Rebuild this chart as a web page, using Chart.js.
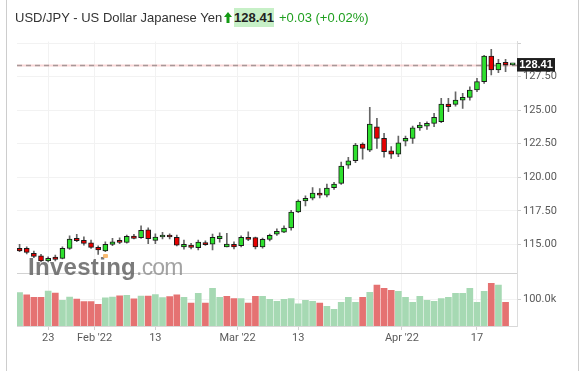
<!DOCTYPE html>
<html>
<head>
<meta charset="utf-8">
<script src="https://cdn.jsdelivr.net/npm/chart.js@4.4.1/dist/chart.umd.min.js"></script>
<style>
  html, body { margin: 0; padding: 0; background: #fff; }
  #wrap { position: relative; width: 584px; height: 371px; overflow: hidden; font-family: 'Liberation Sans', Arial, sans-serif; }
  #chart { position: absolute; left: 0; top: 0; }
  .frame { position: absolute; top: 0; width: 1px; height: 371px; background: #cdcdcd; }
  .hdr { position: absolute; top: 10px; font-size: 13px; line-height: 15px; white-space: nowrap; }
  #title { left: 15px; color: #333; }
  #arrow { position: absolute; left: 224px; top: 12px; }
  #last { position: absolute; left: 234px; top: 8px; width: 40px; height: 19px; background: #c7f0c7;
          font-weight: bold; font-size: 13px; line-height: 19px; text-align: center; color: #222; }
  #chg { left: 279px; color: #1f9f1f; }
  #wm { position: absolute; left: 28px; top: 255px; line-height: 24px; white-space: nowrap; pointer-events: none; }
  #wm b { font-size: 24px; color: rgba(100,100,100,0.85); letter-spacing: 0.3px; }
  #wm span { font-size: 23px; color: rgba(140,140,140,0.8); letter-spacing: -0.8px; }
  #wmdot { position: absolute; left: 103px; top: 254px; width: 5px; height: 4px; border-radius: 1px; background: rgba(247,180,100,0.9); }
</style>
</head>
<body>
<div id="wrap">
  <canvas id="chart" width="584" height="371"></canvas>
  <div class="frame" style="left:6px"></div>
  <div class="frame" style="left:578px"></div>
  <div class="hdr" id="title">USD/JPY - US Dollar Japanese Yen</div>
  <svg id="arrow" width="8" height="11" viewBox="0 0 8 11"><path d="M4 0 L8 5 L5.5 5 L5.5 11 L2.5 11 L2.5 5 L0 5 Z" fill="#139a13"/></svg>
  <div id="last">128.41</div>
  <div class="hdr" id="chg">+0.03 (+0.02%)</div>
  <div id="wm"><b>Investing</b><span>.com</span></div>
  <div id="wmdot"></div>
</div>
<script>
// -------- Data (daily candles, USD/JPY) --------
const opens = [114.69,114.69,114.32,114.14,113.75,114.05,113.95,114.69,115.44,115.29,
  115.11,114.77,114.51,114.99,115.29,115.14,115.61,115.49,116.08,115.29,
  115.54,115.69,115.52,114.81,114.94,114.74,115.13,115.01,115.41,114.81,
  114.99,114.89,115.52,115.49,114.81,115.37,115.76,115.91,116.21,117.41,
  118.23,118.43,118.81,118.66,119.22,119.54,120.91,121.23,122.48,122.03,
  123.77,122.90,121.98,121.73,122.70,122.90,123.69,123.82,124.02,124.14,
  125.46,125.44,125.76,125.96,126.51,127.13,129.04,128.00,128.57,128.38];
const highs = [114.99,114.81,114.49,114.25,114.07,114.19,114.81,115.63,115.74,115.56,
  115.31,114.89,115.19,115.44,115.48,115.69,115.74,116.38,116.23,115.78,
  115.89,115.78,115.69,115.31,115.07,115.31,115.26,115.76,115.86,115.81,
  115.19,115.63,115.93,115.54,115.46,115.76,116.16,116.38,117.53,118.31,
  118.61,119.23,119.16,119.49,119.63,121.13,121.49,122.53,122.57,125.22,
  124.40,123.27,122.28,123.07,123.07,123.82,124.10,124.14,124.77,125.89,
  125.89,126.38,126.26,126.75,127.38,129.10,129.54,128.80,128.80,128.45];
const lows = [114.44,114.27,113.99,113.69,113.69,113.75,113.90,114.62,115.19,114.94,
  114.69,114.25,114.44,114.89,115.04,115.09,115.39,115.44,115.04,115.04,
  115.39,115.39,114.87,114.64,114.66,114.57,114.92,114.57,115.16,114.81,
  114.66,114.81,115.26,114.66,114.71,115.24,115.66,115.86,116.05,117.36,
  117.86,118.31,118.46,118.54,119.09,119.47,120.66,121.08,121.34,121.90,
  122.16,121.49,121.41,121.53,122.33,122.53,123.50,123.57,123.77,124.07,
  124.89,125.31,125.14,125.76,126.38,127.00,127.63,127.80,127.87,128.36];
const closes = [114.51,114.40,114.10,113.75,113.95,113.87,114.69,115.39,115.26,115.07,
  114.77,114.57,114.99,115.19,115.14,115.59,115.44,116.04,115.41,115.54,
  115.69,115.54,114.94,114.99,114.77,115.16,114.96,115.51,115.61,115.01,
  114.81,115.52,115.37,114.81,115.37,115.66,115.96,116.21,117.41,118.23,
  118.43,118.81,118.66,119.19,119.49,120.84,121.23,122.40,122.16,123.97,
  122.90,121.90,121.73,122.57,122.90,123.69,123.90,124.02,124.47,125.46,
  125.26,125.76,125.96,126.51,127.13,129.04,128.00,128.50,128.38,128.41];
// volume in thousands (last, live candle has none yet)
const volumes = [126,118,108,108,132,124,97,109,102,92,
  92,82,106,109,114,116,103,113,113,119,
  107,111,118,108,87,123,87,142,108,112,
  104,104,87,112,112,101,93,101,104,84,
  97,93,87,74,63,89,108,89,108,127,
  155,142,135,131,108,89,112,97,93,104,
  108,123,123,142,89,131,161,155,89];
// 1 = green volume bar, 0 = red
const volUp = [1,0,0,0,1,0,1,1,0,0,
  0,0,1,1,0,1,0,1,0,1,
  1,0,0,1,0,1,0,1,1,0,
  0,1,0,0,1,1,1,1,1,1,
  1,1,0,1,1,1,1,1,0,1,
  0,0,0,1,1,1,1,1,1,1,
  1,1,1,1,1,1,0,1,0];

// x tick positions (in candle index units) and their labels
const xTickPos = [4, 10.5, 19, 30.5, 39, 53.5, 64];
const xTickLabels = ['23', "Feb '22", '13', "Mar '22", '13', "Apr '22", '17'];
const priceTicks = [115, 117.5, 120, 122.5, 125, 127.5, 130];
const volTicks = [100];

const lastPrice = closes[closes.length - 1];

// -------- Style --------
const UP = '#2ee02e', DOWN = '#e60000';
const VOL_UP = '#a6d9b3', VOL_DOWN = '#e57272';
const GRID = '#f2f2f2';
Chart.defaults.font.family = 'Roboto';

const bodies = opens.map((o, i) => ({ x: i, y: [o, closes[i]] }));
const wicks = lows.map((l, i) => ({ x: i, y: [l, highs[i]] }));
const vols = volumes.map((v, i) => ({ x: i, y: v }));

const overlay = {
  id: 'overlay',
  beforeDatasetsDraw(chart) {
    const { ctx, chartArea } = chart;
    const yv = chart.scales.yv, y = chart.scales.y;
    ctx.save();
    // panel separator
    const sy = Math.round(yv.top) + 0.5;
    ctx.strokeStyle = '#d2d2d2';
    ctx.lineWidth = 1;
    ctx.beginPath(); ctx.moveTo(chartArea.left, sy); ctx.lineTo(chartArea.right, sy); ctx.stroke();
    // last price line
    const py = Math.round(y.getPixelForValue(lastPrice)) + 0.5;
    ctx.strokeStyle = 'rgba(240,140,140,0.35)';
    ctx.lineWidth = 2;
    ctx.beginPath(); ctx.moveTo(chartArea.left, py); ctx.lineTo(chartArea.right, py); ctx.stroke();
    ctx.setLineDash([5, 4]);
    ctx.strokeStyle = '#a89898';
    ctx.lineWidth = 1.5;
    ctx.beginPath(); ctx.moveTo(chartArea.left, py); ctx.lineTo(chartArea.right, py); ctx.stroke();
    ctx.restore();
  },
  afterDraw(chart) {
    const { ctx, chartArea } = chart;
    const py = chart.scales.y.getPixelForValue(lastPrice);
    ctx.save();
    ctx.fillStyle = '#1e1e1e';
    ctx.fillRect(chartArea.right, py - 6.5, 38, 13.5);
    ctx.fillStyle = '#fff';
    ctx.font = 'bold 11px "Liberation Sans", Arial';
    ctx.textAlign = 'center';
    ctx.textBaseline = 'middle';
    ctx.fillText(lastPrice.toFixed(2), chartArea.right + 19, py + 0.5);
    ctx.restore();
  }
};

new Chart(document.getElementById('chart'), {
  type: 'bar',
  data: {
    datasets: [
      {
        data: bodies, yAxisID: 'y', order: 0, grouped: false,
        barThickness: 5, minBarLength: 2, borderWidth: 1, borderSkipped: false,
        borderColor: '#1a1a1a',
        backgroundColor: bodies.map(b => b.y[1] >= b.y[0] ? UP : DOWN)
      },
      {
        data: wicks, yAxisID: 'y', order: 1, grouped: false,
        barThickness: 1, backgroundColor: '#666'
      },
      {
        data: vols, yAxisID: 'yv', order: 2, grouped: false,
        barThickness: 6, backgroundColor: volUp.map(u => u ? VOL_UP : VOL_DOWN)
      }
    ]
  },
  options: {
    responsive: false,
    animation: false,
    layout: { padding: { left: 17, top: 41.5, right: 6, bottom: 21 } },
    plugins: { legend: { display: false }, tooltip: { enabled: false } },
    scales: {
      x: {
        type: 'linear', position: 'bottom', min: -0.36, max: 69.6, offset: false,
        grid: { color: GRID, offset: false, tickLength: 4, tickColor: '#d0d0d0' },
        border: { color: '#d8d8d8' },
        afterBuildTicks: s => { s.ticks = xTickPos.map(v => ({ value: v })); },
        afterFit: s => { s.height = 24; },
        ticks: {
          autoSkip: false, maxRotation: 0, padding: 2, color: '#5a5a5a', font: { size: 11 },
          callback: v => xTickLabels[xTickPos.indexOf(v)] ?? ''
        }
      },
      y: {
        type: 'linear', position: 'right', stack: 'panes', stackWeight: 232,
        min: 112.83, max: 130.13,
        grid: { color: GRID, tickLength: 4, tickColor: '#d0d0d0' },
        border: { color: '#dcdcdc' },
        afterBuildTicks: s => { s.ticks = priceTicks.map(v => ({ value: v })); },
        afterFit: s => { s.width = 61; },
        ticks: {
          padding: 2, color: '#5a5a5a', font: { size: 11 },
          callback: v => v >= 130 ? '' : v.toFixed(2)
        }
      },
      yv: {
        type: 'linear', position: 'right', stack: 'panes', stackWeight: 52.7,
        min: 0, max: 199, offset: false,
        grid: { color: GRID, tickLength: 4, tickColor: '#d0d0d0' },
        border: { color: '#dcdcdc' },
        afterBuildTicks: s => { s.ticks = volTicks.map(v => ({ value: v })); },
        afterFit: s => { s.width = 61; },
        ticks: {
          padding: 2, color: '#5a5a5a', font: { size: 11 },
          callback: v => v.toFixed(1) + 'k'
        }
      }
    }
  },
  plugins: [overlay]
});
</script>
</body>
</html>
